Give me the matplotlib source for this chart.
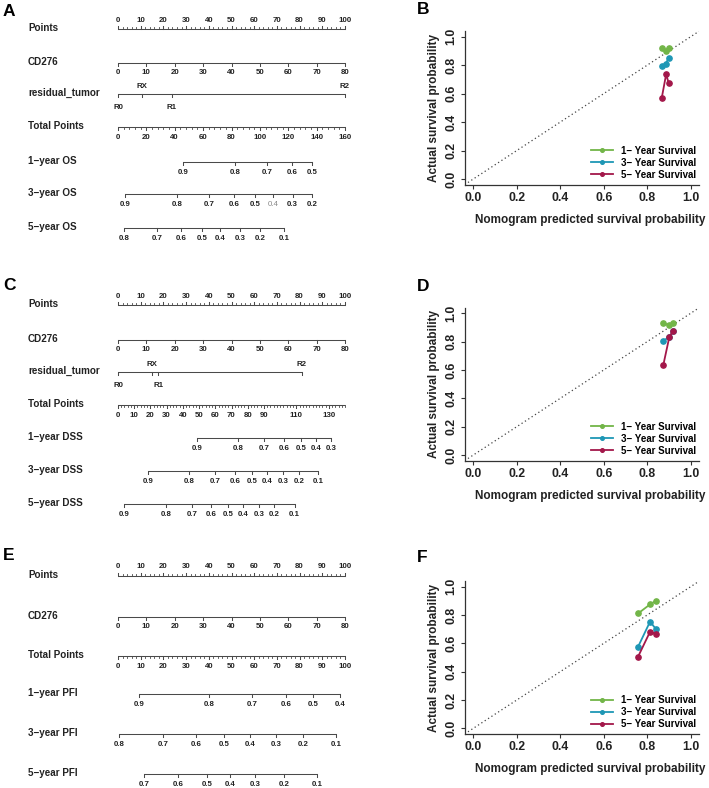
# ------------------------------------------------------------------------------
# -------------------------------------------------------------- IMPORT PACKAGES
import matplotlib.pyplot as plt
from matplotlib.lines import Line2D
import numpy as np

plt.rcParams['font.family'] = ['Liberation Sans', 'DejaVu Sans']
plt.rcParams['font.weight'] = 'bold'

W, H = 709, 788
MINUS = '\u2212'

# ------------------------------------------------------------ NOMOGRAM DATA
points_ticks = np.arange(0, 101, 10)
cd276_ticks = np.arange(0, 81, 10)
cd276_max = 80.0

res_levels = ['R0', 'RX', 'R1', 'R2']
res_pts_A = [0.0, 10.6, 23.8, 100.0]
res_pts_C = [0.0, 14.8, 17.8, 80.9]

total_ticks_A = np.arange(0, 161, 20)
total_max_A = 160.0
total_ticks_C = [0, 10, 20, 30, 40, 50, 60, 70, 80, 90, 110, 130]
total_max_C = 140.0
total_ticks_E = np.arange(0, 101, 10)
total_max_E = 100.0

# survival probability -> total points
os1_prob = [0.9, 0.8, 0.7, 0.6, 0.5]
os1_total = [45.8, 82.5, 105.0, 122.6, 136.7]
os3_prob = [0.9, 0.8, 0.7, 0.6, 0.5, 0.4, 0.3, 0.2]
os3_total = [5.1, 41.4, 64.4, 81.8, 96.6, 109.5, 123.1, 137.0]
os5_prob = [0.8, 0.7, 0.6, 0.5, 0.4, 0.3, 0.2, 0.1]
os5_total = [4.4, 27.3, 44.4, 59.2, 71.9, 86.0, 100.1, 117.2]

dss1_prob = [0.9, 0.8, 0.7, 0.6, 0.5, 0.4, 0.3]
dss1_total = [48.5, 74.2, 90.0, 102.4, 112.9, 122.1, 131.4]
dss3_prob = [0.9, 0.8, 0.7, 0.6, 0.5, 0.4, 0.3, 0.2, 0.1]
dss3_total = [18.3, 44.0, 59.8, 72.3, 82.5, 92.1, 101.6, 111.6, 123.5]
dss5_prob = [0.9, 0.8, 0.7, 0.6, 0.5, 0.4, 0.3, 0.2, 0.1]
dss5_total = [3.7, 29.6, 45.5, 57.2, 67.8, 77.3, 87.1, 96.4, 109.0]

pfi1_prob = [0.9, 0.8, 0.7, 0.6, 0.5, 0.4]
pfi1_total = [9.4, 40.2, 59.2, 74.0, 86.0, 97.8]
pfi3_prob = [0.8, 0.7, 0.6, 0.5, 0.4, 0.3, 0.2, 0.1]
pfi3_total = [0.6, 19.7, 34.4, 46.7, 58.1, 69.6, 81.6, 96.0]
pfi5_prob = [0.7, 0.6, 0.5, 0.4, 0.3, 0.2, 0.1]
pfi5_total = [11.6, 26.6, 39.1, 49.3, 60.4, 73.1, 87.8]

# --------------------------------------------------------- CALIBRATION DATA
cal_labels = ['1' + MINUS + ' Year Survival', '3' + MINUS + ' Year Survival',
	'5' + MINUS + ' Year Survival']
cal_colors = ['#72B548', '#1E97B5', '#A3174A']

B_pred = [[0.867, 0.887, 0.899], [0.867, 0.885, 0.899], [0.867, 0.887, 0.899]]
B_obs = [[0.918, 0.900, 0.918], [0.796, 0.808, 0.853], [0.571, 0.736, 0.672]]
D_pred = [[0.874, 0.902, 0.920], [0.874, 0.902, 0.920], [0.874, 0.902, 0.920]]
D_obs = [[0.929, 0.917, 0.934], [0.807, 0.832, 0.874], [0.635, 0.835, 0.877]]
F_pred = [[0.758, 0.813, 0.841], [0.758, 0.813, 0.841], [0.758, 0.813, 0.841]]
F_obs = [[0.811, 0.875, 0.901], [0.576, 0.753, 0.699], [0.506, 0.682, 0.666]]

# ------------------------------------------------------------------- STYLES
LCOL = '#4a4a4a'
TCOL = '#222222'
LW = 0.75
TICKFS = 5.7
ROWFS = 7.1
X0_PX, PX_PER_PT = 118.0, 2.27
LABEL_X = (28.0 - X0_PX) / PX_PER_PT

fig = plt.figure(figsize=(W / 100.0, H / 100.0), dpi=100)
fig.patch.set_facecolor('white')

axl = fig.add_axes([0, 0, 360.0 / W, 1])
axl.set_xlim((0 - X0_PX) / PX_PER_PT, (360 - X0_PX) / PX_PER_PT)
axl.set_ylim(H, 0)
axl.axis('off')

# ---------------------------------------------------------------- AXIS HELPER
def nomo_axis(y, pos, labels, up=False, lab_y=None, ticklen=3.0, minor=None,
		minorlen=1.8, styles=None):
	pos = np.asarray(pos, dtype=float)
	sgn = -1.0 if up else 1.0
	lo = pos.min() if minor is None else min(pos.min(), np.min(minor))
	hi = pos.max() if minor is None else max(pos.max(), np.max(minor))
	axl.plot([lo, hi], [y, y], color=LCOL, lw=LW, solid_capstyle='butt')
	if minor is not None:
		for m in minor:
			axl.plot([m, m], [y, y + sgn * minorlen], color=LCOL, lw=LW * 0.8)
	for p in pos:
		axl.plot([p, p], [y, y + sgn * ticklen], color=LCOL, lw=LW)
	if lab_y is None:
		return
	for i, (p, t) in enumerate(zip(pos, labels)):
		col, wt = TCOL, 'bold'
		if styles is not None and styles[i] is not None:
			col, wt = styles[i]
		axl.text(p, lab_y, t, ha='center', va='center', fontsize=TICKFS,
			color=col, fontweight=wt)

def row_label(y, text):
	axl.text(LABEL_X, y - 1, text, ha='left', va='center', fontsize=ROWFS,
		color=TCOL, fontweight='bold')

def fmt(v):
	return ('%.1f' % v)

# ------------------------------------------------------------------- NOMOGRAM
def nomogram(rows, letter, letter_y):
	fig.text(3.0 / W, 1 - letter_y / H, letter, fontsize=12.5, fontweight='bold',
		ha='left', va='center', color='black')
	for r in rows:
		row_label(r['y'], r['name'])
		kind = r['kind']
		if kind == 'points':
			nomo_axis(r['y'], points_ticks, [str(v) for v in points_ticks], up=True,
				lab_y=r['y'] - 9, ticklen=3.0, minor=np.arange(0, 101, 2))
		elif kind == 'cd276':
			nomo_axis(r['y'], cd276_ticks / cd276_max * 100.0,
				[str(v) for v in cd276_ticks], lab_y=r['y'] + 9)
		elif kind == 'resid':
			pts = r['pts']
			nomo_axis(r['y'], pts, [None] * len(pts), lab_y=None)
			for i, (p, t) in enumerate(zip(pts, res_levels)):
				ly = r['y'] - 8 if t in ('RX', 'R2') else r['y'] + 13
				axl.text(p, ly, t, ha='center', va='center', fontsize=TICKFS,
					color=TCOL, fontweight='bold')
		elif kind == 'total':
			tmax = r['tmax']
			ticks = np.asarray(r['ticks'], dtype=float)
			minor = np.arange(0, tmax + 0.01, r['step']) / tmax * 100.0
			nomo_axis(r['y'], ticks / tmax * 100.0, [str(int(v)) for v in ticks],
				lab_y=r['y'] + 10, ticklen=2.6, minor=minor, minorlen=1.8)
		elif kind == 'surv':
			tmax = r['tmax']
			pos = np.asarray(r['total']) / tmax * 100.0
			nomo_axis(r['y'], pos, [fmt(v) for v in r['prob']], lab_y=r['y'] + 10,
				styles=r.get('styles'))

os3_styles = [None] * len(os3_prob)
os3_styles[os3_prob.index(0.4)] = ('#8a8a8a', 'normal')

rows_A = [
	dict(y=29, name='Points', kind='points'),
	dict(y=63, name='CD276', kind='cd276'),
	dict(y=94, name='residual_tumor', kind='resid', pts=res_pts_A),
	dict(y=127, name='Total Points', kind='total', tmax=total_max_A,
		ticks=total_ticks_A, step=4),
	dict(y=162, name='1' + MINUS + 'year OS', kind='surv', tmax=total_max_A,
		prob=os1_prob, total=os1_total),
	dict(y=194, name='3' + MINUS + 'year OS', kind='surv', tmax=total_max_A,
		prob=os3_prob, total=os3_total, styles=os3_styles),
	dict(y=228, name='5' + MINUS + 'year OS', kind='surv', tmax=total_max_A,
		prob=os5_prob, total=os5_total),
]
rows_C = [
	dict(y=305, name='Points', kind='points'),
	dict(y=340, name='CD276', kind='cd276'),
	dict(y=372, name='residual_tumor', kind='resid', pts=res_pts_C),
	dict(y=405, name='Total Points', kind='total', tmax=total_max_C,
		ticks=total_ticks_C, step=2),
	dict(y=438, name='1' + MINUS + 'year DSS', kind='surv', tmax=total_max_C,
		prob=dss1_prob, total=dss1_total),
	dict(y=471, name='3' + MINUS + 'year DSS', kind='surv', tmax=total_max_C,
		prob=dss3_prob, total=dss3_total),
	dict(y=504, name='5' + MINUS + 'year DSS', kind='surv', tmax=total_max_C,
		prob=dss5_prob, total=dss5_total),
]
rows_E = [
	dict(y=576, name='Points', kind='points'),
	dict(y=617, name='CD276', kind='cd276'),
	dict(y=656, name='Total Points', kind='total', tmax=total_max_E,
		ticks=total_ticks_E, step=2),
	dict(y=694, name='1' + MINUS + 'year PFI', kind='surv', tmax=total_max_E,
		prob=pfi1_prob, total=pfi1_total),
	dict(y=734, name='3' + MINUS + 'year PFI', kind='surv', tmax=total_max_E,
		prob=pfi3_prob, total=pfi3_total),
	dict(y=774, name='5' + MINUS + 'year PFI', kind='surv', tmax=total_max_E,
		prob=pfi5_prob, total=pfi5_total),
]

nomogram(rows_A, 'A', 12)
nomogram(rows_C, 'C', 285)
nomogram(rows_E, 'E', 555)

# ---------------------------------------------------------------- CALIBRATION
def calibration(pred, obs, box, letter, letter_y):
	left, right, top, bottom = box
	ax = fig.add_axes([left / W, 1 - bottom / H, (right - left) / W, (bottom - top) / H])
	ax.set_xlim(-0.04, 1.04)
	ax.set_ylim(-0.04, 1.04)
	ax.axline((0, 0), slope=1, color='#444444', lw=0.9, ls=(0, (1, 2.2)))
	for k in range(3):
		ax.plot(pred[k], obs[k], '-o', color=cal_colors[k], lw=1.3, ms=3.8,
			label=cal_labels[k])
	for s in ['top', 'right']:
		ax.spines[s].set_visible(False)
	for s in ['left', 'bottom']:
		ax.spines[s].set_color('#333333')
		ax.spines[s].set_linewidth(0.9)
	ticks = np.linspace(0, 1, 6)
	ax.set_xticks(ticks)
	ax.set_yticks(ticks)
	ax.set_xticklabels(['%.1f' % t for t in ticks])
	ax.set_yticklabels(['%.1f' % t for t in ticks], rotation=90, va='center')
	ax.tick_params(length=3, width=0.8, color='#333333', labelsize=8.8,
		labelcolor=TCOL, pad=2)
	ax.set_xlabel('Nomogram predicted survival probability', fontsize=8.5,
		fontweight='bold', color=TCOL)
	ax.xaxis.set_label_coords(0.535, -0.19)
	ax.set_ylabel('Actual survival probability', fontsize=8.5, fontweight='bold',
		color=TCOL, labelpad=4)
	handles = [Line2D([], [], color=c, lw=1.3, marker='o', ms=2.6) for c in cal_colors]
	ax.legend(handles, cal_labels, loc='lower right', bbox_to_anchor=(1.01, -0.005),
		frameon=False, fontsize=7.0, handlelength=2.2, handletextpad=0.8,
		labelspacing=0.2, borderaxespad=0.2)
	fig.text(417.0 / W, 1 - letter_y / H, letter, fontsize=12.5, fontweight='bold',
		ha='left', va='center', color='black')
	return ax

calibration(B_pred, B_obs, (464.6, 699.4, 31.0, 184.7), 'B', 10)
calibration(D_pred, D_obs, (464.6, 699.4, 307.6, 460.7), 'D', 287)
calibration(F_pred, F_obs, (464.6, 699.4, 581.0, 734.0), 'F', 557)

fig.savefig('out.png', dpi=100, facecolor='white')
plt.close()
# ------------------------------------------------------------------------------
